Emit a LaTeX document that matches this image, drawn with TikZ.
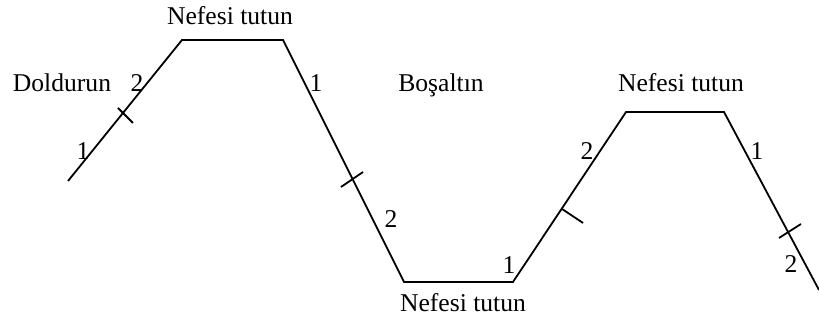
\documentclass[tikz,border=0pt]{standalone}
\usepackage{fontspec}
\setmainfont{Liberation Serif}
\usepackage{tikz}

\begin{document}
\begin{tikzpicture}[x=0.5pt, y=-0.5pt, line width=0.9pt,
    lbl/.style={anchor=base, inner sep=0pt},
    font=\fontsize{12.8}{15}\selectfont]
  \useasboundingbox (0,0) rectangle (819,324);
  % breathing curve
  \coordinate (p0) at (68,181);
  \coordinate (p1) at (182,40);
  \coordinate (p2) at (283,40);
  \coordinate (p3) at (404,282);
  \coordinate (p4) at (513,282);
  \coordinate (p5) at (626,112);
  \coordinate (p6) at (724,112);
  \coordinate (p7) at (819,290);
  \draw (p0) -- (p1) -- (p2) -- (p3) -- (p4) -- (p5) -- (p6) -- (p7);
  % tick marks
  \draw (118,108) -- (133,123);
  \draw (341,187) -- (363,172);
  \draw (562,209) -- (583,223);
  \draw (779,238) -- (801,224);
  % labels
  \node[lbl] (hold1) at (230,25) {Nefesi tutun};
  \node[lbl] (fill) at (62,92) {Doldurun};
  \node[lbl] (f2) at (137,92) {2};
  \node[lbl] (f1) at (83,160) {1};
  \node[lbl] (e1) at (316,92) {1};
  \node[lbl] (empty) at (441,92) {Boşaltın};
  \node[lbl] (e2) at (391,228) {2};
  \node[lbl] (h1) at (509,274) {1};
  \node[lbl] (hold2) at (463,312) {Nefesi tutun};
  \node[lbl] (g2) at (587,160) {2};
  \node[lbl] (hold3) at (681,92) {Nefesi tutun};
  \node[lbl] (k1) at (757,160) {1};
  \node[lbl] (k2) at (791,273) {2};
\end{tikzpicture}
\end{document}
